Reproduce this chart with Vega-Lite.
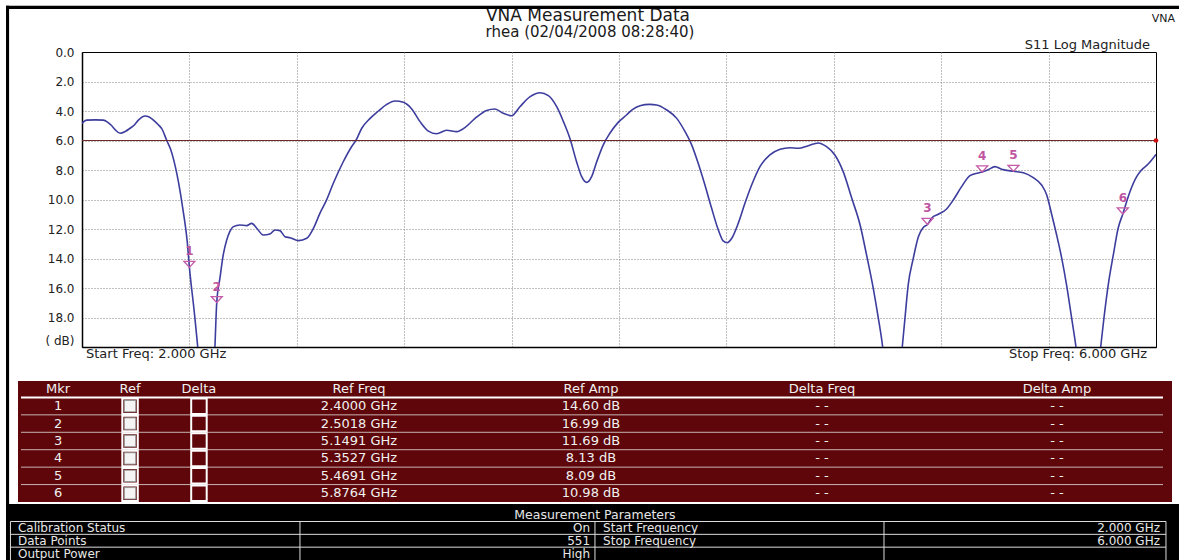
{
  "$schema": "https://vega.github.io/schema/vega-lite/v6.json",
  "width": 1074,
  "height": 295,
  "autosize": {"type": "none"},
  "padding": {"left": 82, "top": 52, "right": 23, "bottom": 213},
  "background": "#ffffff",
  "config": {"view": {"stroke": "#000000", "strokeWidth": 1}, "font": "DejaVu Sans", "axis": {"labelOverlap": false}},
  "datasets": {
    "trace": [
      {"f": 2.0, "db": 4.84}, {"f": 2.017, "db": 4.62}, {"f": 2.05, "db": 4.6}, {"f": 2.079, "db": 4.62},
      {"f": 2.095, "db": 4.75}, {"f": 2.11, "db": 4.98}, {"f": 2.125, "db": 5.3}, {"f": 2.142, "db": 5.51},
      {"f": 2.16, "db": 5.4}, {"f": 2.179, "db": 5.17}, {"f": 2.195, "db": 4.95}, {"f": 2.21, "db": 4.62},
      {"f": 2.235, "db": 4.34}, {"f": 2.25, "db": 4.4}, {"f": 2.266, "db": 4.62}, {"f": 2.285, "db": 4.95},
      {"f": 2.297, "db": 5.2}, {"f": 2.315, "db": 5.97}, {"f": 2.33, "db": 6.6}, {"f": 2.34, "db": 7.21},
      {"f": 2.359, "db": 8.79}, {"f": 2.377, "db": 10.8}, {"f": 2.392, "db": 12.86}, {"f": 2.4, "db": 14.6},
      {"f": 2.418, "db": 17.6}, {"f": 2.431, "db": 20}, {"f": 2.463, "db": 28}, {"f": 2.495, "db": 20},
      {"f": 2.5018, "db": 16.99}, {"f": 2.514, "db": 15.3}, {"f": 2.526, "db": 13.76}, {"f": 2.539, "db": 12.75},
      {"f": 2.55, "db": 12.2}, {"f": 2.564, "db": 11.84}, {"f": 2.588, "db": 11.73}, {"f": 2.613, "db": 11.77},
      {"f": 2.632, "db": 11.62}, {"f": 2.651, "db": 11.95}, {"f": 2.675, "db": 12.41}, {"f": 2.7, "db": 12.34},
      {"f": 2.719, "db": 12.07}, {"f": 2.737, "db": 12.11}, {"f": 2.756, "db": 12.52}, {"f": 2.775, "db": 12.59},
      {"f": 2.806, "db": 12.79}, {"f": 2.837, "db": 12.63}, {"f": 2.862, "db": 11.95}, {"f": 2.886, "db": 10.94},
      {"f": 2.911, "db": 10.03}, {"f": 2.936, "db": 8.9}, {"f": 2.973, "db": 7.44}, {"f": 3.004, "db": 6.42},
      {"f": 3.02, "db": 6.0}, {"f": 3.042, "db": 5.17}, {"f": 3.073, "db": 4.5}, {"f": 3.104, "db": 4.0},
      {"f": 3.135, "db": 3.55}, {"f": 3.166, "db": 3.32}, {"f": 3.197, "db": 3.41}, {"f": 3.228, "db": 3.86},
      {"f": 3.259, "db": 4.72}, {"f": 3.29, "db": 5.36}, {"f": 3.321, "db": 5.54}, {"f": 3.358, "db": 5.31},
      {"f": 3.396, "db": 5.4}, {"f": 3.426, "db": 5.13}, {"f": 3.464, "db": 4.5}, {"f": 3.507, "db": 3.96},
      {"f": 3.538, "db": 3.86}, {"f": 3.569, "db": 4.16}, {"f": 3.6, "db": 4.32}, {"f": 3.631, "db": 3.71},
      {"f": 3.669, "db": 3.03}, {"f": 3.706, "db": 2.76}, {"f": 3.737, "db": 2.96}, {"f": 3.768, "db": 3.71},
      {"f": 3.793, "db": 4.72}, {"f": 3.817, "db": 5.85}, {"f": 3.842, "db": 7.44}, {"f": 3.861, "db": 8.45},
      {"f": 3.88, "db": 8.84}, {"f": 3.898, "db": 8.45}, {"f": 3.917, "db": 7.44}, {"f": 3.941, "db": 6.31},
      {"f": 3.966, "db": 5.51}, {"f": 3.997, "db": 4.77}, {"f": 4.028, "db": 4.27}, {"f": 4.05, "db": 3.9},
      {"f": 4.078, "db": 3.64}, {"f": 4.115, "db": 3.55}, {"f": 4.14, "db": 3.59}, {"f": 4.178, "db": 3.93},
      {"f": 4.215, "db": 4.5}, {"f": 4.246, "db": 5.4}, {"f": 4.271, "db": 6.31}, {"f": 4.295, "db": 7.55},
      {"f": 4.32, "db": 9.02}, {"f": 4.345, "db": 10.6}, {"f": 4.37, "db": 12.07}, {"f": 4.388, "db": 12.81},
      {"f": 4.403, "db": 12.93}, {"f": 4.42, "db": 12.63}, {"f": 4.444, "db": 11.62}, {"f": 4.469, "db": 10.26},
      {"f": 4.494, "db": 9.02}, {"f": 4.525, "db": 7.77}, {"f": 4.562, "db": 6.98}, {"f": 4.6, "db": 6.6},
      {"f": 4.637, "db": 6.49}, {"f": 4.668, "db": 6.53}, {"f": 4.705, "db": 6.35}, {"f": 4.742, "db": 6.17},
      {"f": 4.773, "db": 6.42}, {"f": 4.804, "db": 6.98}, {"f": 4.835, "db": 8.11}, {"f": 4.867, "db": 9.92},
      {"f": 4.898, "db": 11.73}, {"f": 4.922, "db": 13.76}, {"f": 4.947, "db": 16.02}, {"f": 4.966, "db": 18.06},
      {"f": 4.982, "db": 20}, {"f": 5.018, "db": 28}, {"f": 5.055, "db": 20}, {"f": 5.065, "db": 18.06},
      {"f": 5.077, "db": 15.8}, {"f": 5.096, "db": 13.99}, {"f": 5.115, "db": 12.52}, {"f": 5.133, "db": 11.9},
      {"f": 5.1491, "db": 11.69}, {"f": 5.165, "db": 11.25}, {"f": 5.189, "db": 11.0}, {"f": 5.22, "db": 10.64},
      {"f": 5.245, "db": 10.03}, {"f": 5.276, "db": 9.13}, {"f": 5.307, "db": 8.38}, {"f": 5.338, "db": 8.2},
      {"f": 5.3527, "db": 8.13}, {"f": 5.375, "db": 7.98}, {"f": 5.4, "db": 7.77}, {"f": 5.425, "db": 7.95},
      {"f": 5.4691, "db": 8.09}, {"f": 5.506, "db": 8.18}, {"f": 5.543, "db": 8.52}, {"f": 5.574, "db": 9.02},
      {"f": 5.593, "db": 9.69}, {"f": 5.612, "db": 11.05}, {"f": 5.63, "db": 12.41}, {"f": 5.649, "db": 13.99},
      {"f": 5.667, "db": 15.8}, {"f": 5.686, "db": 18.06}, {"f": 5.702, "db": 20}, {"f": 5.748, "db": 28},
      {"f": 5.794, "db": 20}, {"f": 5.806, "db": 18.06}, {"f": 5.822, "db": 15.8}, {"f": 5.841, "db": 13.76},
      {"f": 5.859, "db": 11.95}, {"f": 5.8764, "db": 10.98}, {"f": 5.903, "db": 9.47}, {"f": 5.928, "db": 8.45},
      {"f": 5.946, "db": 8.0}, {"f": 5.97, "db": 7.61}, {"f": 6.0, "db": 6.94}
    ],
    "markers": [
      {"Mkr": 1, "f": 2.4, "amp": 14.6, "ref_freq": "2.4000 GHz", "ref_amp": "14.60 dB", "delta_freq": "- -", "delta_amp": "- -"},
      {"Mkr": 2, "f": 2.5018, "amp": 16.99, "ref_freq": "2.5018 GHz", "ref_amp": "16.99 dB", "delta_freq": "- -", "delta_amp": "- -"},
      {"Mkr": 3, "f": 5.1491, "amp": 11.69, "ref_freq": "5.1491 GHz", "ref_amp": "11.69 dB", "delta_freq": "- -", "delta_amp": "- -"},
      {"Mkr": 4, "f": 5.3527, "amp": 8.13, "ref_freq": "5.3527 GHz", "ref_amp": "8.13 dB", "delta_freq": "- -", "delta_amp": "- -"},
      {"Mkr": 5, "f": 5.4691, "amp": 8.09, "ref_freq": "5.4691 GHz", "ref_amp": "8.09 dB", "delta_freq": "- -", "delta_amp": "- -"},
      {"Mkr": 6, "f": 5.8764, "amp": 10.98, "ref_freq": "5.8764 GHz", "ref_amp": "10.98 dB", "delta_freq": "- -", "delta_amp": "- -"}
    ],
    "params": [
      {"param": "Calibration Status", "value": "On", "param2": "Start Frequency", "value2": "2.000 GHz"},
      {"param": "Data Points", "value": "551", "param2": "Stop Frequency", "value2": "6.000 GHz"},
      {"param": "Output Power", "value": "High", "param2": "", "value2": ""}
    ]
  },
  "resolve": {"scale": {"x": "independent", "y": "independent"}, "axis": {"x": "independent", "y": "independent"}},
  "layer": [
    {
      "data": {"name": "trace"},
      "resolve": {"axis": {"x": "independent", "y": "independent"}},
      "layer": [
        {
          "mark": {"type": "line", "clip": true, "color": "#3d3d9e", "strokeWidth": 1.6, "interpolate": "monotone"},
          "encoding": {
            "x": {"field": "f", "type": "quantitative", "scale": {"domain": [2, 6], "nice": false, "zero": false},
              "axis": {"orient": "bottom", "values": [2.4, 2.8, 3.2, 3.6, 4.0, 4.4, 4.8, 5.2, 5.6], "labels": false, "ticks": false, "title": null,
                "grid": true, "gridDash": [1, 2], "gridColor": "#808080", "gridWidth": 1, "domainColor": "#000000", "domainWidth": 1.5}},
            "y": {"field": "db", "type": "quantitative", "scale": {"domain": [0, 20], "reverse": true, "nice": false, "zero": false},
              "axis": {"orient": "left", "values": [0, 2, 4, 6, 8, 10, 12, 14, 16, 18, 20], "ticks": false, "title": null,
                "labelExpr": "datum.value == 20 ? '( dB)' : format(datum.value, '.1f')",
                "labelBaseline": {"condition": {"test": "datum.value == 20", "value": "bottom"}, "value": "middle"},
                "labelPadding": 8, "labelFontSize": 12, "labelColor": "#222222", "labelFont": "DejaVu Sans",
                "labelOverlap": false, "labelBound": false, "labelFlush": false, "labelSeparation": 0,
                "grid": true, "gridDash": [1, 2], "gridWidth": 1,
                "gridColor": {"condition": {"test": "datum.value == 0 || datum.value == 20", "value": "rgba(0,0,0,0)"}, "value": "#808080"},
                "domainColor": "#000000", "domainWidth": 1.5}}
          }
        },
        {
          "data": {"values": [{}]},
          "mark": {"type": "rule", "color": "#702828", "strokeWidth": 1.2},
          "encoding": {"y": {"datum": 6, "type": "quantitative", "axis": null}}
        },
        {
          "data": {"values": [{}]},
          "mark": {"type": "point", "filled": true, "color": "#cc1111", "size": 22, "opacity": 1},
          "encoding": {"x": {"datum": 6, "type": "quantitative", "axis": null}, "y": {"datum": 6, "type": "quantitative", "axis": null}}
        },
        {
          "data": {"name": "markers"},
          "mark": {"type": "point", "shape": "M -1 -1.1 L 1 -1.1 L 0 0 Z", "size": 121, "filled": false, "color": "#c45aa8", "strokeWidth": 1.3, "opacity": 1},
          "encoding": {"x": {"field": "f", "type": "quantitative", "axis": null}, "y": {"field": "amp", "type": "quantitative", "axis": null}}
        },
        {
          "data": {"name": "markers"},
          "mark": {"type": "text", "dy": -16, "fontSize": 12, "fontWeight": "bold", "color": "#c0559f", "baseline": "middle", "align": "center"},
          "encoding": {"x": {"field": "f", "type": "quantitative", "axis": null}, "y": {"field": "amp", "type": "quantitative", "axis": null}, "text": {"field": "Mkr"}}
        },
        {
          "data": {"values": [{}]},
          "mark": {"type": "text", "text": "Start Freq: 2.000 GHz", "align": "left", "baseline": "alphabetic", "dx": 4, "dy": 11, "fontSize": 13, "color": "#222222"},
          "encoding": {"x": {"datum": 2, "type": "quantitative", "axis": null}, "y": {"datum": 20, "type": "quantitative", "axis": null}}
        },
        {
          "data": {"values": [{}]},
          "mark": {"type": "text", "text": "Stop Freq: 6.000 GHz", "align": "right", "baseline": "alphabetic", "dx": -9, "dy": 11, "fontSize": 13, "color": "#222222"},
          "encoding": {"x": {"datum": 6, "type": "quantitative", "axis": null}, "y": {"datum": 20, "type": "quantitative", "axis": null}}
        },
        {
          "data": {"values": [{}]},
          "mark": {"type": "text", "text": "S11 Log Magnitude", "align": "right", "baseline": "alphabetic", "dx": -6, "dy": -3, "fontSize": 13, "color": "#222222"},
          "encoding": {"x": {"datum": 6, "type": "quantitative", "axis": null}, "y": {"datum": 0, "type": "quantitative", "axis": null}}
        },
        {
          "data": {"values": [{}]},
          "mark": {"type": "text", "text": "VNA Measurement Data", "align": "center", "baseline": "alphabetic", "dx": -31, "dy": -31, "fontSize": 17, "color": "#1a1a1a"},
          "encoding": {"x": {"datum": 4, "type": "quantitative", "axis": null}, "y": {"datum": 0, "type": "quantitative", "axis": null}}
        },
        {
          "data": {"values": [{}]},
          "mark": {"type": "text", "text": "rhea (02/04/2008 08:28:40)", "align": "center", "baseline": "alphabetic", "dx": -29, "dy": -15, "fontSize": 15, "color": "#1a1a1a"},
          "encoding": {"x": {"datum": 4, "type": "quantitative", "axis": null}, "y": {"datum": 0, "type": "quantitative", "axis": null}}
        },
        {
          "data": {"values": [{}]},
          "mark": {"type": "text", "text": "VNA", "align": "right", "baseline": "middle", "dx": 19, "dy": -33, "fontSize": 11, "color": "#1a1a1a"},
          "encoding": {"x": {"datum": 6, "type": "quantitative", "axis": null}, "y": {"datum": 0, "type": "quantitative", "axis": null}}
        }
      ]
    },
    {
      "data": {"values": [{}]},
      "layer": [
        {
          "mark": {"type": "rect", "color": "#000000"},
          "encoding": {
            "x": {"datum": 0.0051, "type": "quantitative", "scale": {"domain": [0, 1], "range": [-82, 1097]}, "axis": null},
            "x2": {"datum": 1},
            "y": {"datum": 0.0102, "type": "quantitative", "scale": {"domain": [0, 1], "range": [-52, 508]}, "axis": null},
            "y2": {"datum": 0.0161}
          }
        },
        {
          "mark": {"type": "rect", "color": "#000000"},
          "encoding": {
            "x": {"datum": 0.0051, "type": "quantitative", "axis": null},
            "x2": {"datum": 0.0077},
            "y": {"datum": 0.0102, "type": "quantitative", "axis": null},
            "y2": {"datum": 1}
          }
        }
      ]
    },
    {
      "data": {"values": [{}]},
      "mark": {"type": "rect", "color": "#5e0609"},
      "encoding": {
        "x": {"datum": 0, "type": "quantitative", "scale": {"domain": [0, 1], "range": [-64, 1090]}, "axis": null},
        "x2": {"datum": 1},
        "y": {"datum": 0, "type": "quantitative", "scale": {"domain": [0, 1], "range": [329, 450]}, "axis": null},
        "y2": {"datum": 1}
      }
    },
    {
      "data": {"name": "markers"},
      "encoding": {
        "y": {"field": "Mkr", "type": "ordinal", "scale": {"type": "band", "domain": [0, 1, 2, 3, 4, 5, 6], "range": [328, 450], "paddingInner": 0, "paddingOuter": 0}, "axis": null}
      },
      "layer": [
        {
          "mark": {"type": "rule"},
          "encoding": {
            "x": {"datum": 0.0026, "type": "quantitative", "scale": {"domain": [0, 1], "range": [-64, 1090]}, "axis": null},
            "x2": {"datum": 0.9922},
            "y": {"field": "Mkr", "type": "ordinal", "bandPosition": 0, "axis": null},
            "color": {"condition": {"test": "datum.Mkr == 1", "value": "#ffffff"}, "value": "#c8b4b4"},
            "strokeWidth": {"condition": {"test": "datum.Mkr == 1", "value": 2}, "value": 1}
          }
        },
        {
          "mark": {"type": "text", "fontSize": 13, "color": "#f0f0f0", "align": "center", "baseline": "middle"},
          "encoding": {"x": {"datum": 0.0347, "type": "quantitative", "axis": null}, "text": {"field": "Mkr"}}
        },
        {
          "mark": {"type": "point", "shape": "square", "size": 240, "filled": false, "stroke": "#ffffff", "strokeWidth": 2, "opacity": 1},
          "encoding": {"x": {"datum": 0.0971, "type": "quantitative", "axis": null}}
        },
        {
          "mark": {"type": "point", "shape": "square", "size": 130, "filled": true, "fill": "#f4f4f4", "stroke": "#9a9a9a", "strokeWidth": 1, "opacity": 1},
          "encoding": {"x": {"datum": 0.0971, "type": "quantitative", "axis": null}}
        },
        {
          "mark": {"type": "point", "shape": "square", "size": 240, "filled": false, "stroke": "#ffffff", "strokeWidth": 2, "opacity": 1},
          "encoding": {"x": {"datum": 0.1568, "type": "quantitative", "axis": null}}
        },
        {
          "mark": {"type": "text", "fontSize": 13, "color": "#f0f0f0", "align": "center", "baseline": "middle"},
          "encoding": {"x": {"datum": 0.2955, "type": "quantitative", "axis": null}, "text": {"field": "ref_freq"}}
        },
        {
          "mark": {"type": "text", "fontSize": 13, "color": "#f0f0f0", "align": "center", "baseline": "middle"},
          "encoding": {"x": {"datum": 0.4965, "type": "quantitative", "axis": null}, "text": {"field": "ref_amp"}}
        },
        {
          "mark": {"type": "text", "fontSize": 13, "color": "#f0f0f0", "align": "center", "baseline": "middle"},
          "encoding": {"x": {"datum": 0.6967, "type": "quantitative", "axis": null}, "text": {"field": "delta_freq"}}
        },
        {
          "mark": {"type": "text", "fontSize": 13, "color": "#f0f0f0", "align": "center", "baseline": "middle"},
          "encoding": {"x": {"datum": 0.9003, "type": "quantitative", "axis": null}, "text": {"field": "delta_amp"}}
        },
        {
          "data": {"values": [{}]},
          "mark": {"type": "text", "text": "Mkr", "fontSize": 13, "color": "#f0f0f0", "align": "center", "baseline": "middle"},
          "encoding": {"x": {"datum": 0.0347, "type": "quantitative", "axis": null}, "y": {"datum": 0, "type": "ordinal", "axis": null}}
        },
        {
          "data": {"values": [{}]},
          "mark": {"type": "text", "text": "Ref", "fontSize": 13, "color": "#f0f0f0", "align": "center", "baseline": "middle"},
          "encoding": {"x": {"datum": 0.0971, "type": "quantitative", "axis": null}, "y": {"datum": 0, "type": "ordinal", "axis": null}}
        },
        {
          "data": {"values": [{}]},
          "mark": {"type": "text", "text": "Delta", "fontSize": 13, "color": "#f0f0f0", "align": "center", "baseline": "middle"},
          "encoding": {"x": {"datum": 0.1568, "type": "quantitative", "axis": null}, "y": {"datum": 0, "type": "ordinal", "axis": null}}
        },
        {
          "data": {"values": [{}]},
          "mark": {"type": "text", "text": "Ref Freq", "fontSize": 13, "color": "#f0f0f0", "align": "center", "baseline": "middle"},
          "encoding": {"x": {"datum": 0.2955, "type": "quantitative", "axis": null}, "y": {"datum": 0, "type": "ordinal", "axis": null}}
        },
        {
          "data": {"values": [{}]},
          "mark": {"type": "text", "text": "Ref Amp", "fontSize": 13, "color": "#f0f0f0", "align": "center", "baseline": "middle"},
          "encoding": {"x": {"datum": 0.4965, "type": "quantitative", "axis": null}, "y": {"datum": 0, "type": "ordinal", "axis": null}}
        },
        {
          "data": {"values": [{}]},
          "mark": {"type": "text", "text": "Delta Freq", "fontSize": 13, "color": "#f0f0f0", "align": "center", "baseline": "middle"},
          "encoding": {"x": {"datum": 0.6967, "type": "quantitative", "axis": null}, "y": {"datum": 0, "type": "ordinal", "axis": null}}
        },
        {
          "data": {"values": [{}]},
          "mark": {"type": "text", "text": "Delta Amp", "fontSize": 13, "color": "#f0f0f0", "align": "center", "baseline": "middle"},
          "encoding": {"x": {"datum": 0.9003, "type": "quantitative", "axis": null}, "y": {"datum": 0, "type": "ordinal", "axis": null}}
        }
      ]
    },
    {
      "data": {"values": [{}]},
      "layer": [
        {
          "mark": {"type": "rect", "color": "#000000"},
          "encoding": {
            "x": {"datum": 0, "type": "quantitative", "scale": {"domain": [0, 1], "range": [-76, 1097]}, "axis": null},
            "x2": {"datum": 1},
            "y": {"datum": 0, "type": "quantitative", "scale": {"domain": [0, 1], "range": [452, 508]}, "axis": null},
            "y2": {"datum": 1}
          }
        },
        {
          "mark": {"type": "text", "text": "Measurement Parameters", "fontSize": 12.5, "color": "#e6e6e6", "align": "center", "baseline": "middle"},
          "encoding": {"x": {"datum": 0.5021, "type": "quantitative", "axis": null}, "y": {"datum": 0.205, "type": "quantitative", "axis": null}}
        },
        {"mark": {"type": "rule", "color": "#dddddd", "strokeWidth": 1}, "encoding": {"x": {"datum": 0.0038, "type": "quantitative", "axis": null}, "y": {"datum": 0.312, "type": "quantitative", "axis": null}, "y2": {"datum": 1}}},
        {"mark": {"type": "rule", "color": "#dddddd", "strokeWidth": 1}, "encoding": {"x": {"datum": 0.2506, "type": "quantitative", "axis": null}, "y": {"datum": 0.312, "type": "quantitative", "axis": null}, "y2": {"datum": 1}}},
        {"mark": {"type": "rule", "color": "#dddddd", "strokeWidth": 1}, "encoding": {"x": {"datum": 0.5021, "type": "quantitative", "axis": null}, "y": {"datum": 0.312, "type": "quantitative", "axis": null}, "y2": {"datum": 1}}},
        {"mark": {"type": "rule", "color": "#dddddd", "strokeWidth": 1}, "encoding": {"x": {"datum": 0.7485, "type": "quantitative", "axis": null}, "y": {"datum": 0.312, "type": "quantitative", "axis": null}, "y2": {"datum": 1}}},
        {"mark": {"type": "rule", "color": "#dddddd", "strokeWidth": 1}, "encoding": {"x": {"datum": 0.9889, "type": "quantitative", "axis": null}, "y": {"datum": 0.312, "type": "quantitative", "axis": null}, "y2": {"datum": 1}}}
      ]
    },
    {
      "data": {"name": "params"},
      "encoding": {
        "y": {"field": "param", "type": "ordinal", "sort": null, "scale": {"type": "band", "domain": ["Calibration Status", "Data Points", "Output Power"], "range": [469.5, 508], "paddingInner": 0, "paddingOuter": 0}, "axis": null}
      },
      "layer": [
        {
          "mark": {"type": "rule", "color": "#dddddd", "strokeWidth": 1},
          "encoding": {
            "x": {"datum": 0.0038, "type": "quantitative", "scale": {"domain": [0, 1], "range": [-76, 1097]}, "axis": null},
            "x2": {"datum": 0.9889},
            "y": {"field": "param", "type": "ordinal", "sort": null, "bandPosition": 0, "axis": null}
          }
        },
        {
          "mark": {"type": "text", "fontSize": 12, "color": "#e6e6e6", "align": "left", "baseline": "middle"},
          "encoding": {"x": {"datum": 0.0102, "type": "quantitative", "axis": null}, "text": {"field": "param"}}
        },
        {
          "mark": {"type": "text", "fontSize": 12, "color": "#e6e6e6", "align": "right", "baseline": "middle"},
          "encoding": {"x": {"datum": 0.4979, "type": "quantitative", "axis": null}, "text": {"field": "value"}}
        },
        {
          "mark": {"type": "text", "fontSize": 12, "color": "#e6e6e6", "align": "left", "baseline": "middle"},
          "encoding": {"x": {"datum": 0.509, "type": "quantitative", "axis": null}, "text": {"field": "param2"}}
        },
        {
          "mark": {"type": "text", "fontSize": 12, "color": "#e6e6e6", "align": "right", "baseline": "middle"},
          "encoding": {"x": {"datum": 0.9838, "type": "quantitative", "axis": null}, "text": {"field": "value2"}}
        }
      ]
    }
  ]
}
